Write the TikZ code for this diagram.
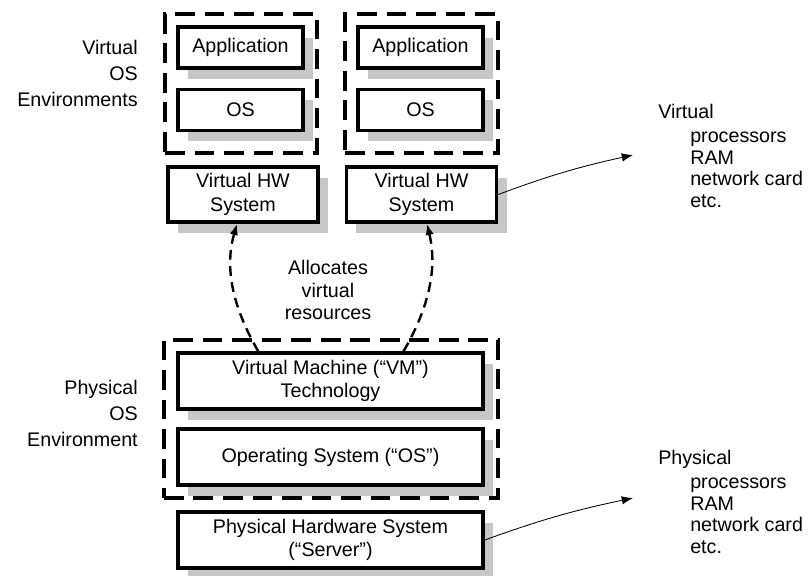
\documentclass[tikz,border=0pt]{standalone}
\usepackage{fontspec}
\setmainfont{Liberation Sans}
\usetikzlibrary{arrows.meta, shadows}
\tikzset{
  hwbox/.style = {draw, line width=2.4pt, fill=white, align=center, inner sep=0pt,
    drop shadow={shadow xshift=0.25cm, shadow yshift=-0.27cm, fill=black!22, opacity=1},
    font=\fontsize{14}{16.5}\selectfont},
  appsize/.style = {minimum width=3.125cm, minimum height=1.025cm},
  vhwsize/.style = {minimum width=3.75cm, minimum height=1.375cm},
  widesize/.style = {minimum width=7.625cm, minimum height=1.4cm},
  envbox/.style = {draw, line width=2.6pt, dash pattern=on 14pt off 7pt, inner sep=0pt},
  sidelabel/.style = {align=right, anchor=east, inner sep=0pt, font=\fontsize{14}{18.5}\selectfont},
  reslist/.style = {align=left, anchor=north west, inner sep=0pt, font=\fontsize{14}{15.3}\selectfont},
  allocline/.style = {line width=1.7pt, dash pattern=on 7pt off 4.5pt, -{Latex[length=8pt,width=6pt]}},
  resline/.style = {line width=0.6pt, -{Latex[length=8pt,width=6pt]}}
}

\begin{document}
\begin{tikzpicture}[x=0.025cm, y=-0.025cm]
% 描画範囲(ピクセル単位、下向きが正)
\useasboundingbox (0,0) rectangle (811,575);

% 仮想OS環境の点線枠
\node[envbox, minimum width=3.8cm, minimum height=3.475cm] (env1) at (241,83.5) {};
\node[envbox, minimum width=3.825cm, minimum height=3.475cm] (env2) at (421.5,83.5) {};
% 物理OS環境の点線枠
\node[envbox, minimum width=8.35cm, minimum height=3.95cm] (physenv) at (331,419) {};

% 仮想環境の中身
\node[hwbox, appsize] (app1) at (240.5,47.5) {Application};
\node[hwbox, appsize] (os1) at (240.5,110) {OS};
\node[hwbox, appsize] (app2) at (420.5,47.5) {Application};
\node[hwbox, appsize] (os2) at (420.5,110) {OS};

% 仮想ハードウェア
\node[hwbox, vhwsize] (vhw1) at (243,194.5) {Virtual HW\\System};
\node[hwbox, vhwsize] (vhw2) at (421.5,194.5) {Virtual HW\\System};

% 物理側の層
\node[hwbox, widesize] (vmm) at (330.5,381) {Virtual Machine (“VM”)\\Technology};
\node[hwbox, widesize] (hostos) at (330.5,457) {Operating System (“OS”)};
\node[hwbox, widesize] (hw) at (330.5,540) {Physical Hardware System\\(“Server”)};

% 左側のラベル
\node[sidelabel] (venvlabel) at (138,73) {Virtual\\OS\\Environments};
\node[sidelabel] (penvlabel) at (138,413) {Physical\\OS\\Environment};

% 資源の割り当て
\node[align=center, inner sep=0pt, font=\fontsize{14}{16}\selectfont] (alloc) at (328,290) {Allocates\\virtual\\resources};
\draw[allocline] ([xshift=2.05cm]vmm.north west) .. controls +(-32,-55) and +(-10,35) .. ([xshift=-0.15cm]vhw1.south);
\draw[allocline] ([xshift=-2.03cm]vmm.north east) .. controls +(32,-55) and +(8,35) .. ([xshift=0.14cm]vhw2.south);

% 右側の資源リスト
\node[reslist] (vres) at (658,104) {Virtual\\[2pt]\hspace*{0.8cm}processors\\\hspace*{0.8cm}RAM\\\hspace*{0.8cm}network card\\\hspace*{0.8cm}etc.};
\node[reslist] (pres) at (658,450) {Physical\\[2pt]\hspace*{0.8cm}processors\\\hspace*{0.8cm}RAM\\\hspace*{0.8cm}network card\\\hspace*{0.8cm}etc.};

%矢印の先
\coordinate (vend) at (633,155);
\coordinate (pend) at (633,498);
\draw[resline] (vhw2.east) to[bend left=4] (vend);
\draw[resline] (hw.east) to[bend left=4] (pend);
\end{tikzpicture}
\end{document}
